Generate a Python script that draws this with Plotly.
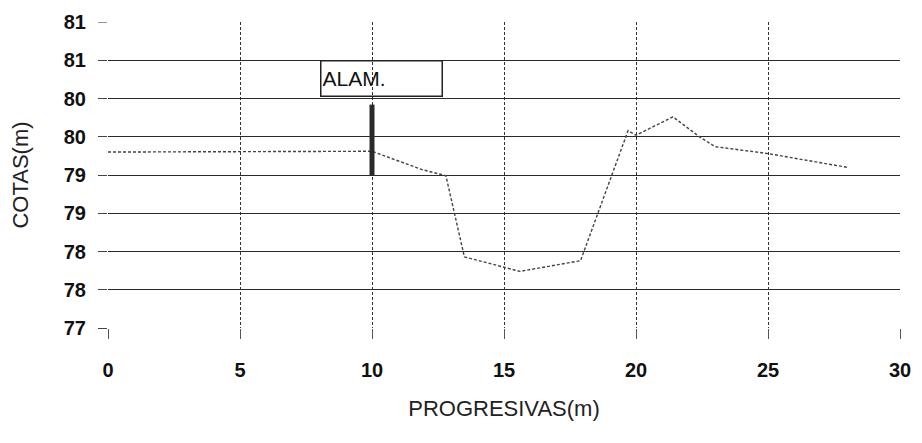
import plotly.graph_objects as go

# Terrain profile (progresiva, cota)
progresivas = [0, 10, 11.9, 12.8, 13.5, 15.6, 17.9, 19.7, 20.0, 21.4, 22.4, 23.0, 25.0, 28.0]
cotas = [79.3, 79.31, 79.07, 78.99, 77.93, 77.74, 77.88, 79.58, 79.52, 79.76, 79.5, 79.37, 79.28, 79.1]

# Fence post (ALAM.)
alam_x = [10, 10]
alam_y = [79.0, 79.92]
alam_label = "ALAM."

y_tickvals = [77, 77.5, 78, 78.5, 79, 79.5, 80, 80.5]
y_ticktext = ["77", "78", "78", "79", "79", "80", "80", "81"]
y_top_val = [81]
y_top_text = ["81"]
x_tickvals = [0, 5, 10, 15, 20, 25, 30]

fig = go.Figure()
fig.add_trace(go.Scatter(
    x=progresivas, y=cotas, mode="lines",
    line=dict(color="#444", width=1.4, dash="3px,2px"),
    showlegend=False, hoverinfo="skip"))
fig.add_trace(go.Scatter(
    x=alam_x, y=alam_y, mode="lines",
    line=dict(color="#2a2a2a", width=5),
    showlegend=False, hoverinfo="skip"))
# invisible trace for the top tick axis
fig.add_trace(go.Scatter(x=[0], y=[81], yaxis="y2", mode="markers",
                         marker=dict(opacity=0), showlegend=False, hoverinfo="skip"))

fig.add_annotation(
    x=8.02, y=80.5, xref="x", yref="y", xanchor="left", yanchor="top",
    text=alam_label, showarrow=False, align="left", valign="middle",
    width=118, height=32, bordercolor="#222", borderwidth=1.5, borderpad=1,
    font=dict(family="Liberation Sans, Arial", size=21, color="#111"))

tick_font = dict(family="Liberation Sans, Arial", size=20, color="#111", weight="bold")

fig.update_layout(
    width=914, height=427,
    margin=dict(l=100, r=22, t=14, b=107, autoexpand=False),
    plot_bgcolor="white", paper_bgcolor="white",
    xaxis=dict(
        range=[0, 30], tickvals=x_tickvals, ticktext=[str(v) for v in x_tickvals],
        showgrid=True, gridcolor="#333", gridwidth=1, griddash="3px,2px",
        zeroline=False, showline=False, automargin=False,
        ticks="outside", ticklen=10, tickcolor="#555", tickwidth=1,
        tickfont=tick_font, ticklabelstandoff=14,
        title=dict(text="PROGRESIVAS(m)", standoff=20,
                   font=dict(family="Liberation Sans, Arial", size=22, color="#222")),
    ),
    yaxis=dict(
        range=[77, 81], tickvals=y_tickvals, ticktext=y_ticktext,
        showgrid=True, gridcolor="#2a2a2a", gridwidth=1,
        zeroline=False, showline=False, automargin=False,
        ticks="outside", ticklen=9, tickcolor="#444", tickwidth=1,
        tickfont=tick_font, ticklabelstandoff=8,
        title=dict(text="COTAS(m)", standoff=44,
                   font=dict(family="Liberation Sans, Arial", size=22, color="#222")),
    ),
    yaxis2=dict(
        range=[77, 81], overlaying="y", side="left", anchor="x", automargin=False,
        tickvals=y_top_val, ticktext=y_top_text, showgrid=False, zeroline=False,
        ticks="outside", ticklen=9, tickcolor="#999", tickwidth=1,
        tickfont=tick_font, ticklabelstandoff=8,
    ),
)

fig.write_html("out.html")
